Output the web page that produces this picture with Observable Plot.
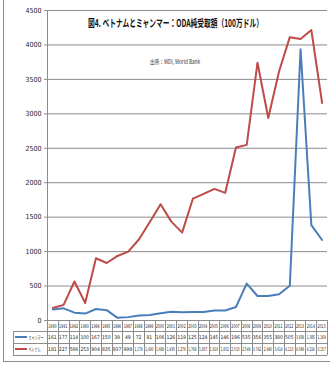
<!DOCTYPE html>
<html><head><meta charset="utf-8">
<script src="https://cdn.jsdelivr.net/npm/d3@7"></script>
<script src="https://cdn.jsdelivr.net/npm/@observablehq/plot@0.6"></script>
<style>
html,body{margin:0;padding:0;background:#fff;}
svg{display:block;}
</style>
</head><body>
<div id="chart"></div>
<script>
const years = [1990,1991,1992,1993,1994,1995,1996,1997,1998,1999,2000,2001,2002,2003,2004,2005,2006,2007,2008,2009,2010,2011,2012,2013,2014,2015];
const myanmar = [161,177,114,100,167,150,39,49,72,81,106,126,119,125,124,145,146,196,535,356,355,380,505,3938,1385,1169];
const vietnam = [181,227,566,253,904,835,937,999,1179,1430,1688,1435,1276,1768,1837,1910,1852,2510,2549,3742,2940,3614,4113,4086,4216,3157];
const seriesNames = ["ミャンマー","ベトナム"];
const seriesColors = ["#4a7ebb","#be4b48"];
const yTicks = [0,500,1000,1500,2000,2500,3000,3500,4000,4500];
const titleText = "図4. ベトナムとミャンマー：ODA純受取額（100万ドル）";
const sourceText = "出所：WDI, World Bank";

const seriesValues = [myanmar, vietnam];
const data = [];
seriesNames.forEach((name, i) => years.forEach((y, j) => data.push({year: y, series: name, value: seriesValues[i][j]})));

const narrow = "'Liberation Sans Narrow','DejaVu Sans Condensed','Arial Narrow',sans-serif";
const W = 330, H = 367;

const plot = Plot.plot({
  width: W, height: H,
  marginLeft: 47, marginRight: 3, marginTop: 10, marginBottom: 47,
  style: {fontFamily: narrow, fontSize: "7px", color: "#222", background: "#fff"},
  x: {domain: [years[0] - 0.5, years[years.length - 1] + 0.5], axis: null},
  y: {domain: [0, 4500], axis: null},
  color: {domain: seriesNames, range: seriesColors},
  marks: [
    Plot.gridY(yTicks, {stroke: "#8c8c8c", strokeOpacity: 1, strokeWidth: 1}),
    Plot.axisY(yTicks, {tickSize: 3, tickPadding: 3, tickFormat: d3.format("d"), stroke: "#8c8c8c", fill: "#222", label: null}),
    Plot.ruleX([years[0] - 0.5], {stroke: "#8c8c8c"}),
    Plot.ruleY([0], {stroke: "#8c8c8c"}),
    Plot.line(data, {x: "year", y: "value", stroke: "series", strokeWidth: 2, curve: "linear"})
  ]
});
document.getElementById("chart").appendChild(plot);

const svg = d3.select(plot);
const xs = plot.scale("x").apply;
const cjk = "'Noto Sans CJK JP',sans-serif";

// outer frame
svg.insert("rect", ":first-child")
  .attr("x", 3.5).attr("y", -5).attr("width", W + 5).attr("height", 362 + 5 - 0.5)
  .attr("fill", "none").attr("stroke", "#8c8c8c").attr("stroke-width", 1);

// title
svg.append("text").text(titleText)
  .attr("x", 88).attr("y", 27).attr("text-anchor", "start")
  .attr("font-family", cjk).attr("font-weight", "bold").attr("font-size", 10.5)
  .attr("fill", "#111")
  .attr("textLength", 175).attr("lengthAdjust", "spacingAndGlyphs");

// source
svg.append("text").text(sourceText)
  .attr("x", 150).attr("y", 64).attr("text-anchor", "start")
  .attr("font-family", cjk).attr("font-size", 6)
  .attr("fill", "#333")
  .attr("textLength", 50).attr("lengthAdjust", "spacingAndGlyphs");

// data table
const rowTops = [320, 331, 343, 355];
const tableLeft = 13;
const colLeft = xs(years[0] - 0.5), colRight = xs(years[years.length - 1] + 0.5);
const g = svg.append("g").attr("stroke", "#8c8c8c").attr("stroke-width", 1).attr("fill", "none");
g.append("line").attr("x1", colLeft).attr("x2", colRight).attr("y1", rowTops[0] + 0.5).attr("y2", rowTops[0] + 0.5);
for (let r = 1; r < rowTops.length; r++) {
  g.append("line").attr("x1", tableLeft).attr("x2", colRight).attr("y1", rowTops[r] + 0.5).attr("y2", rowTops[r] + 0.5);
}
years.forEach(y => {
  const xx = Math.round(xs(y - 0.5)) + 0.5;
  g.append("line").attr("x1", xx).attr("x2", xx).attr("y1", rowTops[0]).attr("y2", rowTops[3]);
});
g.append("line").attr("x1", Math.round(colRight) + 0.5).attr("x2", Math.round(colRight) + 0.5).attr("y1", rowTops[0]).attr("y2", rowTops[3]);
g.append("line").attr("x1", tableLeft + 0.5).attr("x2", tableLeft + 0.5).attr("y1", rowTops[1]).attr("y2", rowTops[3]);

const fmt = d3.format(",");
const tg = svg.append("g").attr("font-family", narrow).attr("font-size", 5).attr("fill", "#222").attr("text-anchor", "middle");
years.forEach((y, j) => {
  tg.append("text").text(y).attr("x", xs(y)).attr("y", (rowTops[0] + rowTops[1]) / 2 + 2)
    .attr("textLength", 8.2).attr("lengthAdjust", "spacingAndGlyphs");
  seriesValues.forEach((vals, i) => {
    const t = tg.append("text").text(fmt(vals[j])).attr("x", xs(y)).attr("y", (rowTops[i + 1] + rowTops[i + 2]) / 2 + 2);
    if (vals[j] >= 1000) t.attr("textLength", 8.2).attr("lengthAdjust", "spacingAndGlyphs");
  });
});
// legend keys in table
seriesNames.forEach((name, i) => {
  const cy = (rowTops[i + 1] + rowTops[i + 2]) / 2;
  svg.append("line").attr("x1", 15).attr("x2", 27).attr("y1", cy).attr("y2", cy)
    .attr("stroke", seriesColors[i]).attr("stroke-width", 2);
  svg.append("text").text(name).attr("x", 28.5).attr("y", cy + 2).attr("text-anchor", "start")
    .attr("font-family", cjk).attr("font-size", 5).attr("fill", "#222")
    .attr("textLength", i === 0 ? 15 : 12).attr("lengthAdjust", "spacingAndGlyphs");
});
</script>
</body></html>
